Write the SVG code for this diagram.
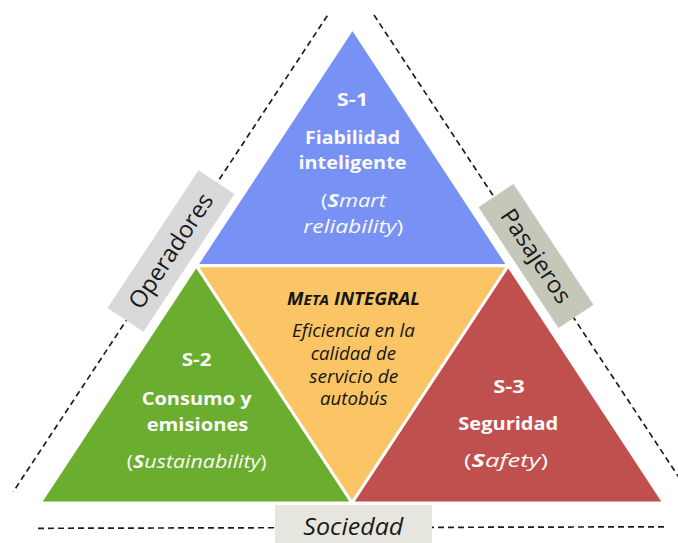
<svg xmlns="http://www.w3.org/2000/svg" width="678" height="543" viewBox="0 0 678 543">
<style>
.tri{stroke:#fff;stroke-width:3;stroke-linejoin:miter}
.dash{fill:none;stroke:#1e1e1e;stroke-width:1.7;stroke-dasharray:6 4}
.t{font-family:'Open Sans','Liberation Sans',sans-serif;text-anchor:middle}
.w{fill:#fafafa;font-size:18.5px}
.b{font-weight:700}
.i{font-style:italic}
.k{fill:#151515;font-size:17.5px}
.lab{font-size:23.5px;fill:#1a1a1a}
</style>
<rect width="678" height="543" fill="#fff"/>
<g id="connectors">
<line class="dash" x1="327.3" y1="15.7" x2="13.3" y2="491.7"/>
<line class="dash" x1="374" y1="15" x2="680" y2="479"/>
<line class="dash" x1="38" y1="528.3" x2="665" y2="526.8"/>
</g>
<g id="s1">
<polygon class="tri" fill="#7791f4" points="352.5,28.5 196.25,265.75 508.25,265.75"/>
<text class="t w b" x="352.5" y="106" textLength="31.6" lengthAdjust="spacingAndGlyphs">S-1</text>
<text class="t w b" x="352.5" y="144" textLength="95" lengthAdjust="spacingAndGlyphs">Fiabilidad</text>
<text class="t w b" x="352.5" y="169" textLength="108" lengthAdjust="spacingAndGlyphs">inteligente</text>
<text class="t w" x="353.5" y="207" textLength="65" lengthAdjust="spacingAndGlyphs">(<tspan class="b i">S</tspan><tspan class="i">mart</tspan></text>
<text class="t w" x="353.3" y="233" textLength="100" lengthAdjust="spacingAndGlyphs"><tspan class="i">reliability</tspan>)</text>
</g>
<g id="meta">
<polygon class="tri" fill="#fbc565" points="196.25,265.75 508.25,265.75 352,503"/>
<text class="t k b i" x="353.5" y="305" font-size="18" textLength="133" lengthAdjust="spacingAndGlyphs">M<tspan font-size="14">ETA</tspan> INTEGRAL</text>
<text class="t k i" x="353.5" y="336.7" textLength="123" lengthAdjust="spacingAndGlyphs">Eficiencia en la</text>
<text class="t k i" x="353.3" y="360" textLength="85.3" lengthAdjust="spacingAndGlyphs">calidad de</text>
<text class="t k i" x="353.8" y="383" textLength="89" lengthAdjust="spacingAndGlyphs">servicio de</text>
<text class="t k i" x="353.8" y="405" textLength="67.7" lengthAdjust="spacingAndGlyphs">autobús</text>
</g>
<g id="s2">
<polygon class="tri" fill="#6aad2f" points="196.25,265.75 40,503 352,503"/>
<text class="t w b" x="196.7" y="366" textLength="30" lengthAdjust="spacingAndGlyphs">S-2</text>
<text class="t w b" x="196.7" y="405" textLength="110" lengthAdjust="spacingAndGlyphs">Consumo y</text>
<text class="t w b" x="197.5" y="430.7" textLength="101.7" lengthAdjust="spacingAndGlyphs">emisiones</text>
<text class="t w" x="196.7" y="467.5" textLength="140" lengthAdjust="spacingAndGlyphs">(<tspan class="b i">S</tspan><tspan class="i">ustainability</tspan>)</text>
</g>
<g id="s3">
<polygon class="tri" fill="#c0504d" points="508.25,265.75 352,503 664,503"/>
<text class="t w b" x="509" y="392.7" textLength="31.7" lengthAdjust="spacingAndGlyphs">S-3</text>
<text class="t w b" x="508.3" y="430" textLength="100" lengthAdjust="spacingAndGlyphs">Seguridad</text>
<text class="t w" x="506" y="467" textLength="84" lengthAdjust="spacingAndGlyphs">(<tspan class="b i">S</tspan><tspan class="i">afety</tspan>)</text>
</g>
<g id="operadores" transform="translate(171,251) rotate(-56.5)">
<rect x="-82.5" y="-21.5" width="165" height="43" fill="#d9d9d9"/>
<text class="t lab" x="0" y="8" textLength="133" lengthAdjust="spacingAndGlyphs">Operadores</text>
</g>
<g id="pasajeros" transform="translate(536,256) rotate(56.5)">
<rect x="-72.5" y="-21" width="145" height="42" fill="#c5c8b8"/>
<text class="t lab" x="0" y="8" textLength="108" lengthAdjust="spacingAndGlyphs">Pasajeros</text>
</g>
<g id="sociedad">
<rect x="275" y="505" width="157" height="40" fill="#e7e6de"/>
<text class="t lab i" x="353.3" y="535" textLength="100" lengthAdjust="spacingAndGlyphs">Sociedad</text>
</g>
</svg>
